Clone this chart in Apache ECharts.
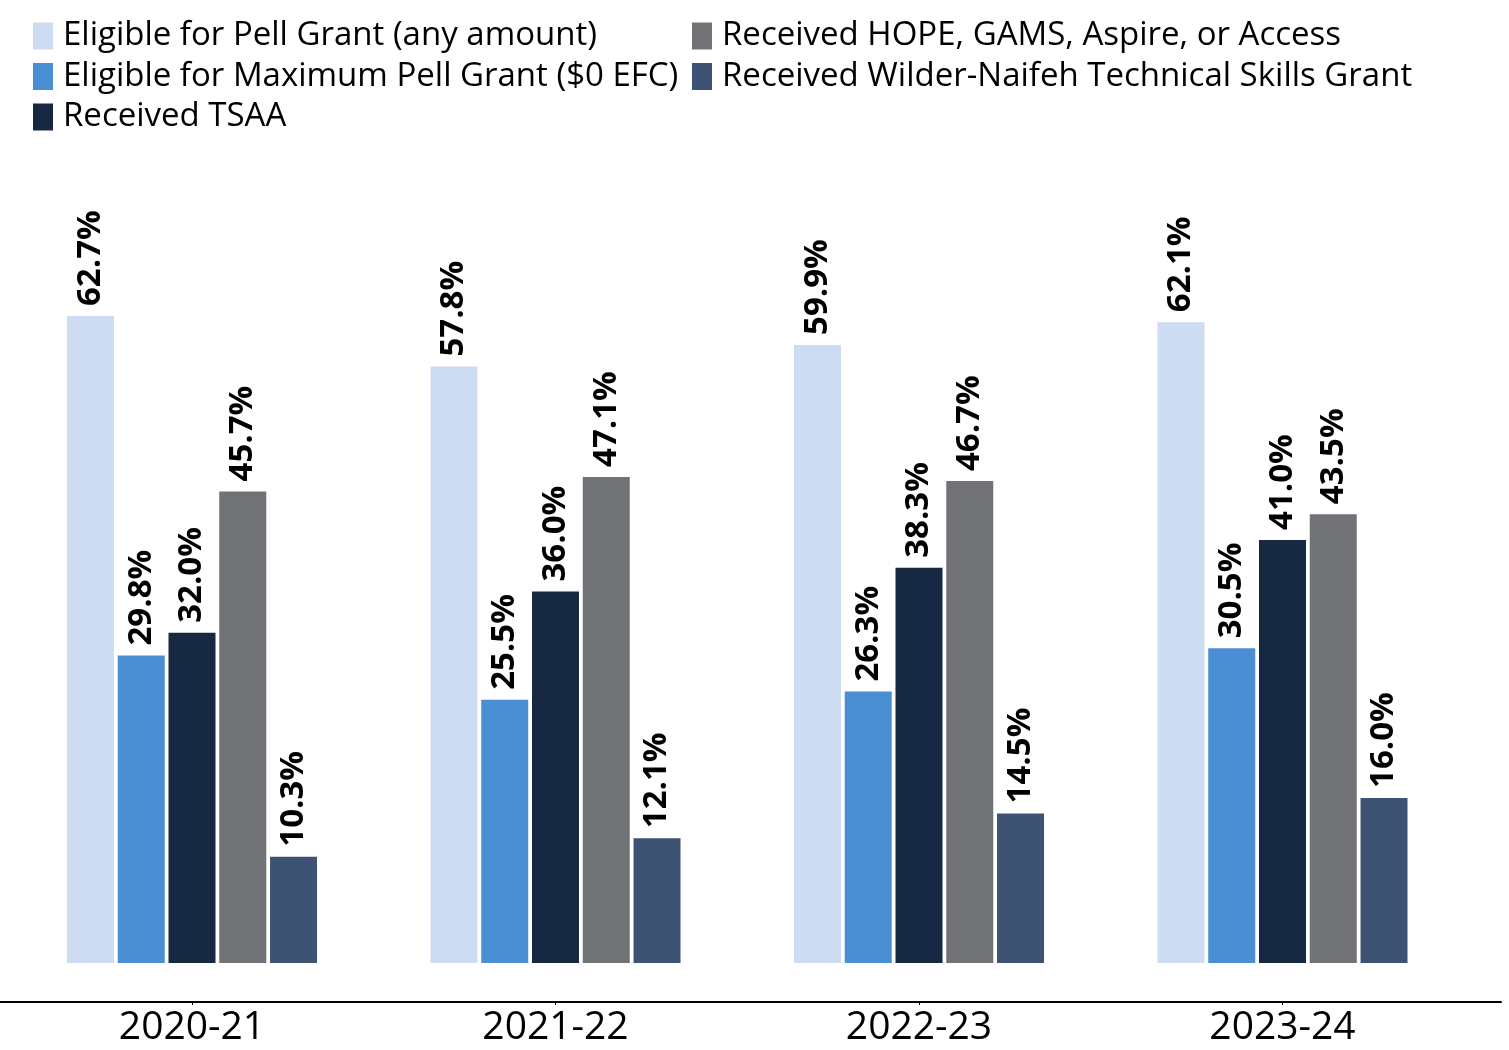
<!DOCTYPE html>
<html>
<head>
<meta charset="utf-8">
<script src="https://cdn.jsdelivr.net/npm/echarts@6/dist/echarts.min.js"></script>
<style>
html,body{margin:0;padding:0;background:#fff;}
#chart{width:1509px;height:1050px;}
</style>
</head>
<body>
<div id="chart"></div>
<script>
const categories = ['2020-21', '2021-22', '2022-23', '2023-24'];
const seriesNames = [
  'Eligible for Pell Grant (any amount)',
  'Eligible for Maximum Pell Grant ($0 EFC)',
  'Received TSAA',
  'Received HOPE, GAMS, Aspire, or Access',
  'Received Wilder-Naifeh Technical Skills Grant'
];
const eligiblePell = [62.7, 57.8, 59.9, 62.1];
const maxPell = [29.8, 25.5, 26.3, 30.5];
const tsaa = [32.0, 36.0, 38.3, 41.0];
const hope = [45.7, 47.1, 46.7, 43.5];
const wilder = [10.3, 12.1, 14.5, 16.0];
const colors = ['#cddcf2', '#4a8fd4', '#172842', '#717275', '#3e5374'];

const valueSets = [eligiblePell, maxPell, tsaa, hope, wilder];
const FONT = '"Open Sans", "Noto Sans", sans-serif';

const chart = echarts.init(document.getElementById('chart'), null, {renderer: 'canvas'});

const legendText = {fontFamily: FONT, fontSize: 33, color: '#000', lineHeight: 30, padding: [0, 0, 0, 5]};

const option = {
  animation: false,
  backgroundColor: '#fff',
  color: colors,
  legend: [
    {
      data: [seriesNames[0], seriesNames[1], seriesNames[2]],
      orient: 'vertical', left: 28, top: 14.5,
      itemWidth: 20, itemHeight: 27, itemGap: 7.5,
      icon: 'rect', textStyle: legendText
    },
    {
      data: [seriesNames[3], seriesNames[4]],
      orient: 'vertical', left: 687, top: 14.5,
      itemWidth: 20, itemHeight: 27, itemGap: 7.5,
      icon: 'rect', textStyle: legendText
    }
  ],
  grid: [
    {left: 10.25, right: 44.75, top: 34.3, bottom: 48},
    {left: 0, right: 8, top: 900, bottom: 48}
  ],
  xAxis: [
    {
      type: 'category', data: categories, gridIndex: 0,
      axisLine: {show: false, onZero: false},
      axisTick: {show: true, alignWithLabel: true, length: 3, lineStyle: {color: '#000', width: 1}},
      axisLabel: {fontFamily: FONT, fontSize: 39, color: '#000', margin: 6}
    },
    {
      type: 'value', gridIndex: 1, min: 0, max: 1,
      axisLine: {show: true, onZero: false, lineStyle: {color: '#000', width: 2}},
      axisTick: {show: false}, axisLabel: {show: false}, splitLine: {show: false}
    }
  ],
  yAxis: [
    {type: 'value', gridIndex: 0, min: -3.7795, max: 90, show: false, splitLine: {show: false}},
    {type: 'value', gridIndex: 1, min: 0, max: 1, show: false, splitLine: {show: false}}
  ],
  series: valueSets.map((vals, i) => ({
    name: seriesNames[i],
    type: 'bar',
    xAxisIndex: 0, yAxisIndex: 0,
    data: vals,
    barWidth: 47,
    barGap: '8%',
    itemStyle: {color: colors[i]},
    label: {
      show: true, position: 'top', rotate: 90, align: 'left', verticalAlign: 'middle',
      distance: 10,
      fontFamily: FONT, fontWeight: 'bold', fontSize: 33, color: '#000',
      formatter: p => p.value.toFixed(1) + '%'
    }
  }))
};
chart.setOption(option);
</script>
</body>
</html>
